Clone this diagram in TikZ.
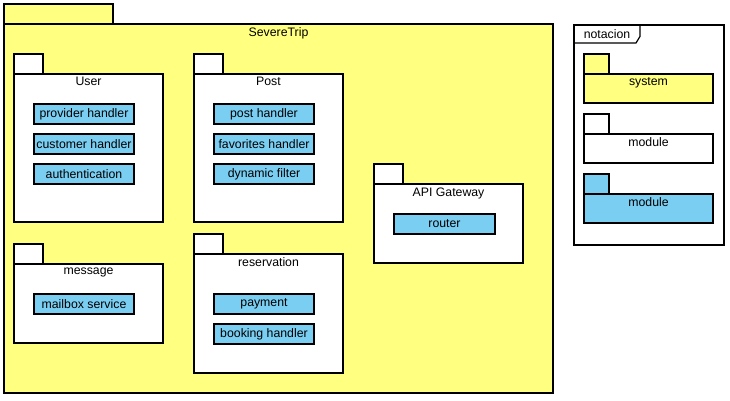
\documentclass[tikz,border=0pt]{standalone}
\usepackage{fontspec}
\setmainfont{Liberation Sans}
\usetikzlibrary{positioning}
\definecolor{systemcolor}{RGB}{255,255,128}
\definecolor{handlercolor}{RGB}{122,206,242}

\begin{document}
\begin{tikzpicture}[
        x=1pt, y=-1pt,
        font=\fontsize{12.3}{14}\selectfont,
        every node/.style={inner sep=0pt, outer sep=0pt, line width=1.2pt},
        body/.style={draw, anchor=north west},
        systembody/.style={body, fill=systemcolor},
        modulebody/.style={body, fill=white},
        handlerbody/.style={body, fill=handlercolor},
        tab/.style={draw, anchor=south west, minimum width=29pt, minimum height=20pt},
        pkglabel/.style={anchor=north, yshift=-3.5pt},
        handler/.style={draw, fill=handlercolor, anchor=north west, minimum width=100pt, minimum height=20pt}
    ]
        \useasboundingbox (0,0) rectangle (730,400);

        % system
        \node[systembody, minimum width=549pt, minimum height=369pt] (severetrip) at (4,24) {};
        \node[tab, fill=systemcolor, minimum width=109pt, above right=0pt and 0pt of severetrip.north west] (severetrip-tab) {};
        \node[pkglabel] (severetrip-label) at (severetrip.north) {SevereTrip};

        % User
        \node[modulebody, minimum width=149pt, minimum height=148pt] (user) at (14,74) {};
        \node[tab, fill=white, above right=0pt and 0pt of user.north west] (user-tab) {};
        \node[pkglabel] (user-label) at (user.north) {User};
        \node[handler] (provider) at (34,104) {provider handler};
        \node[handler, below=10pt of provider] (customer) {customer handler};
        \node[handler, below=10pt of customer] (authentication) {authentication};

        % Post
        \node[modulebody, minimum width=149pt, minimum height=148pt] (post) at (194,74) {};
        \node[tab, fill=white, above right=0pt and 0pt of post.north west] (post-tab) {};
        \node[pkglabel] (post-label) at (post.north) {Post};
        \node[handler] (posthandler) at (214,104) {post handler};
        \node[handler, below=10pt of posthandler] (favorites) {favorites handler};
        \node[handler, below=10pt of favorites] (dynamic) {dynamic filter};

        % message
        \node[modulebody, minimum width=149pt, minimum height=79pt] (message) at (14,264) {};
        \node[tab, fill=white, above right=0pt and 0pt of message.north west] (message-tab) {};
        \node[pkglabel] (message-label) at (message.north) {message};
        \node[handler] (mailbox) at (34,294) {mailbox service};

        % reservation
        \node[modulebody, minimum width=149pt, minimum height=119pt] (reservation) at (194,254) {};
        \node[tab, fill=white, above right=0pt and 0pt of reservation.north west] (reservation-tab) {};
        \node[pkglabel] (reservation-label) at (reservation.north) {reservation};
        \node[handler] (payment) at (214,294) {payment};
        \node[handler, below=10pt of payment] (booking) {booking handler};

        % API Gateway
        \node[modulebody, minimum width=149pt, minimum height=79pt] (gateway) at (374,184) {};
        \node[tab, fill=white, above right=0pt and 0pt of gateway.north west] (gateway-tab) {};
        \node[pkglabel] (gateway-label) at (gateway.north) {API Gateway};
        \node[handler, minimum width=101pt] (router) at (394,214) {router};

        % notacion
        \node[modulebody, minimum width=150pt, minimum height=220pt] (notacion) at (574,25) {};
        \node[anchor=north west, minimum width=66pt, minimum height=18pt] (notacion-label) at (notacion.north west) {notacion};
        \draw[line width=1.2pt] (notacion-label.north east) -- ([yshift=6.6pt]notacion-label.south east)
            -- ([xshift=-4pt]notacion-label.south east) -- (notacion-label.south west);

        \node[systembody, minimum width=129pt, minimum height=29pt] (legend-system) at (584,74) {};
        \node[tab, fill=systemcolor, minimum width=25pt, above right=0pt and 0pt of legend-system.north west] (legend-system-tab) {};
        \node[pkglabel] (legend-system-label) at (legend-system.north) {system};

        \node[modulebody, minimum width=129pt, minimum height=29pt] (legend-module) at (584,134) {};
        \node[tab, fill=white, minimum width=25pt, above right=0pt and 0pt of legend-module.north west] (legend-module-tab) {};
        \node[pkglabel] (legend-module-label) at (legend-module.north) {module};

        \node[handlerbody, minimum width=129pt, minimum height=29pt] (legend-handler) at (584,194) {};
        \node[tab, fill=handlercolor, minimum width=25pt, above right=0pt and 0pt of legend-handler.north west] (legend-handler-tab) {};
        \node[pkglabel] (legend-handler-label) at (legend-handler.north) {module};
    \end{tikzpicture}
\end{document}
